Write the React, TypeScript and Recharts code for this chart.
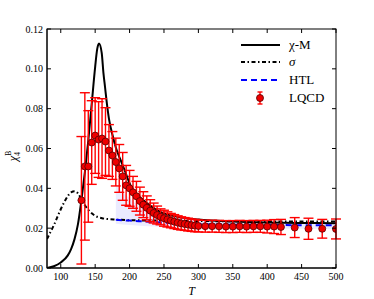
import { ComposedChart, Line, Area, Scatter, ErrorBar, XAxis, YAxis, Legend, Label } from 'recharts'

// chi-M model curve
const chiT = [80, 90, 100, 110, 115, 120, 125, 130, 135, 140, 145, 150, 153, 155.6, 159.5, 162, 164.3, 166.7, 170, 175, 180, 186, 193, 198, 205, 215, 225, 244, 268, 300, 350, 400, 450, 500]
const chiV = [0, 0.0009, 0.0028, 0.0062, 0.0095, 0.0145, 0.022, 0.034, 0.048, 0.064, 0.0825, 0.101, 0.11, 0.1127, 0.108, 0.098, 0.091, 0.0835, 0.075, 0.067, 0.0605, 0.055, 0.049, 0.0443, 0.039, 0.0355, 0.0326, 0.0283, 0.0258, 0.0243, 0.0233, 0.0228, 0.0226, 0.0225]

// sigma model curve
const sigT = [80, 85, 90, 95, 100, 105, 110, 115, 120, 125, 130, 135, 140, 145, 150, 160, 170, 180, 200, 250, 300, 400, 500]
const sigV = [0.0145, 0.018, 0.0215, 0.0255, 0.0295, 0.033, 0.036, 0.038, 0.0385, 0.0375, 0.0345, 0.0315, 0.0292, 0.0275, 0.0262, 0.025, 0.0245, 0.0243, 0.024, 0.0238, 0.0236, 0.0234, 0.0233]

// HTL line and band
const htlT = [180, 200, 250, 300, 400, 500]
const htlV = [0.0242, 0.0238, 0.0228, 0.022, 0.0216, 0.0214]
const bandT = [180, 190, 200, 210, 220, 235, 250, 275, 300, 350, 400, 450, 500]
const bandLo = [0.0222, 0.0219, 0.0216, 0.0213, 0.0211, 0.0208, 0.0206, 0.0203, 0.0201, 0.0199, 0.0198, 0.0197, 0.0196]
const bandHi = [0.0418, 0.038, 0.035, 0.032, 0.03, 0.0285, 0.027, 0.0255, 0.0245, 0.0237, 0.0232, 0.0229, 0.0227]

// lattice QCD points
const lqcdT = [130, 135, 140, 145, 150, 155, 160, 165, 170, 175, 180, 185, 190, 195, 200, 205, 210, 215, 220, 225, 230, 235, 240, 245, 250, 255, 260, 265, 270, 275, 280, 285, 290, 295, 300, 310, 320, 330, 340, 350, 360, 370, 380, 390, 400, 410, 420, 440, 460, 480, 500]
const lqcdV = [0.034, 0.051, 0.051, 0.063, 0.0665, 0.0645, 0.065, 0.0635, 0.059, 0.0565, 0.0532, 0.05, 0.046, 0.0415, 0.04, 0.038, 0.036, 0.0336, 0.0318, 0.0302, 0.0288, 0.0276, 0.0266, 0.0257, 0.025, 0.0244, 0.0238, 0.0233, 0.0228, 0.0224, 0.0221, 0.0218, 0.0215, 0.0213, 0.0211, 0.021, 0.021, 0.0209, 0.0208, 0.0208, 0.0209, 0.0208, 0.0209, 0.0209, 0.0208, 0.0208, 0.0206, 0.0203, 0.0197, 0.0197, 0.0196]
const lqcdE = [0.032, 0.037, 0.028, 0.021, 0.019, 0.019, 0.02, 0.017, 0.013, 0.012, 0.012, 0.012, 0.012, 0.01, 0.009, 0.008, 0.0075, 0.007, 0.0065, 0.006, 0.0055, 0.005, 0.0045, 0.004, 0.004, 0.0038, 0.0036, 0.0035, 0.0034, 0.0033, 0.0032, 0.0032, 0.0031, 0.0031, 0.003, 0.003, 0.003, 0.003, 0.003, 0.003, 0.003, 0.003, 0.003, 0.003, 0.0032, 0.0035, 0.0038, 0.005, 0.0053, 0.0047, 0.005]

const xTicks = [100, 150, 200, 250, 300, 350, 400, 450, 500]
const yTicks = [0, 0.02, 0.04, 0.06, 0.08, 0.1, 0.12]
const xDomain = [80, 500]
const yDomain = [0, 0.12]

const chiData = chiT.map((T, i) => ({ T, v: chiV[i] }))
const sigData = sigT.map((T, i) => ({ T, v: sigV[i] }))
const htlData = htlT.map((T, i) => ({ T, v: htlV[i] }))
const bandData = bandT.map((T, i) => ({ T, band: [bandLo[i], bandHi[i]] }))
const lqcdData = lqcdT.map((T, i) => ({ T, v: lqcdV[i], err: lqcdE[i] }))

const FONT = '"Liberation Serif", serif'
const W = 374
const H = 299
const M = { top: 29, right: 38, left: 47, bottom: 31 }
const PW = W - M.left - M.right
const PH = H - M.top - M.bottom

const BottomTick = (props: any) => {
  const x = Number(props.x)
  const y = Number(props.y)
  return (
    <g>
      <line x1={x} y1={y} x2={x} y2={y - 4} stroke="#000" />
      <text x={x} y={y + 12} textAnchor="middle" fontSize={10} fontFamily={FONT} fill="#000">{props.payload.value}</text>
    </g>
  )
}
const LeftTick = (props: any) => {
  const x = Number(props.x)
  const y = Number(props.y)
  return (
    <g>
      <line x1={x} y1={y} x2={x + 4} y2={y} stroke="#000" />
      <text x={x - 4} y={y + 3.5} textAnchor="end" fontSize={10} fontFamily={FONT} fill="#000">{Number(props.payload.value).toFixed(2)}</text>
    </g>
  )
}

// frame box with inward ticks on top and right edges, laid over the plot area
const px = (v: number) => M.left + ((v - xDomain[0]) / (xDomain[1] - xDomain[0])) * PW
const py = (v: number) => M.top + ((yDomain[1] - v) / (yDomain[1] - yDomain[0])) * PH
const Frame = () => (
  <svg width={W} height={H} style={{ position: 'absolute', left: 0, top: 0, pointerEvents: 'none' }}>
    <rect x={M.left} y={M.top} width={PW} height={PH} fill="none" stroke="#000" />
    {xTicks.map((t) => <line key={'x' + t} x1={px(t)} y1={M.top} x2={px(t)} y2={M.top + 4} stroke="#000" />)}
    {yTicks.map((t) => <line key={'y' + t} x1={M.left + PW} y1={py(t)} x2={M.left + PW - 4} y2={py(t)} stroke="#000" />)}
  </svg>
)

const Dot = ({ cx, cy }: any) => <circle cx={cx} cy={cy} r={3.5} fill="#ee0000" stroke="#550000" strokeWidth={0.8} />

const renderLegend = () => (
  <svg width={90} height={72} style={{ display: 'block' }}>
    <line x1={5} y1={9} x2={44} y2={9} stroke="#000" strokeWidth={2} />
    <text x={53} y={13} fontSize={13} fontFamily={FONT}>χ-M</text>
    <line x1={5} y1={26} x2={44} y2={26} stroke="#000" strokeWidth={2} strokeDasharray="4 2.5 1.5 2.5" />
    <text x={53} y={30} fontSize={13} fontFamily={FONT} fontStyle="italic">σ</text>
    <line x1={5} y1={44} x2={44} y2={44} stroke="#0000ff" strokeWidth={2} strokeDasharray="6 4" />
    <text x={53} y={48} fontSize={13} fontFamily={FONT}>HTL</text>
    <line x1={24} y1={56} x2={24} y2={68} stroke="#ff0000" strokeWidth={1.4} />
    <line x1={21.5} y1={56} x2={26.5} y2={56} stroke="#ff0000" strokeWidth={1.4} />
    <line x1={21.5} y1={68} x2={26.5} y2={68} stroke="#ff0000" strokeWidth={1.4} />
    <circle cx={24} cy={62} r={3.5} fill="#ee0000" stroke="#550000" strokeWidth={0.8} />
    <text x={53} y={66} fontSize={13} fontFamily={FONT}>LQCD</text>
  </svg>
)

const YLabel = () => (
  <text transform="rotate(-90, 17, 156)" x={17} y={156} fontSize={12} fontFamily={FONT} textAnchor="middle" fill="#000">
    <tspan fontStyle="italic">χ</tspan>
    <tspan fontSize={8} dy={3}>4</tspan>
    <tspan fontSize={8} dx={-4} dy={-9}>B</tspan>
  </text>
)

export default function App() {
  return (
    <div style={{ position: 'absolute', left: 0, top: 0, width: W, height: H, background: '#fff' }}>
      <ComposedChart width={W} height={H} margin={{ top: M.top, right: M.right, left: 0, bottom: 0 }}>
        <XAxis dataKey="T" type="number" domain={xDomain} ticks={xTicks} interval={0} allowDataOverflow height={M.bottom} tickSize={0} tickMargin={0} tickLine={false} tick={BottomTick} axisLine={{ stroke: '#000' }}>
          <Label value="T" position="insideBottom" offset={4} fontSize={12} fontStyle="italic" fontFamily={FONT} fill="#000" />
        </XAxis>
        <YAxis type="number" domain={yDomain} ticks={yTicks} interval={0} allowDataOverflow width={M.left} tickSize={0} tickMargin={0} tickLine={false} tick={LeftTick} axisLine={{ stroke: '#000' }}>
          <Label content={<YLabel />} />
        </YAxis>
        <Legend layout="horizontal" verticalAlign="middle" align="center" content={renderLegend} wrapperStyle={{ position: 'absolute', left: 236, top: 36, width: 90, height: 72 }} />
        <Area data={bandData} dataKey="band" type="linear" stroke="none" fill="#0000ff" fillOpacity={0.08} isAnimationActive={false} />
        <Line data={sigData} dataKey="v" type="monotone" stroke="#000" strokeWidth={2} strokeDasharray="4 2.5 1.5 2.5" dot={false} isAnimationActive={false} />
        <Line data={htlData} dataKey="v" type="monotone" stroke="#0000ff" strokeWidth={2} strokeDasharray="6 4" dot={false} isAnimationActive={false} />
        <Line data={chiData} dataKey="v" type="monotone" stroke="#000" strokeWidth={2} dot={false} isAnimationActive={false} />
        <Scatter data={lqcdData} dataKey="v" shape={<Dot />} isAnimationActive={false}>
          <ErrorBar dataKey="err" direction="y" width={5} stroke="#ff0000" strokeWidth={1.4} />
        </Scatter>
      </ComposedChart>
      <Frame />
    </div>
  )
}
